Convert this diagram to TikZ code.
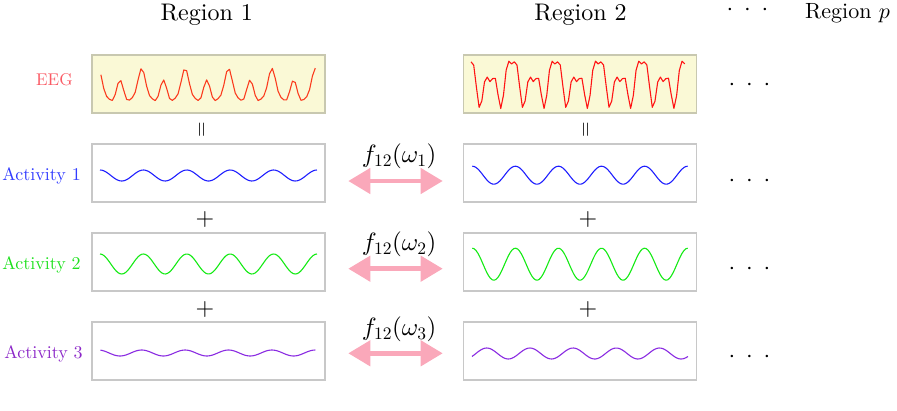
\RequirePackage{fix-cm}
\documentclass[tikz,border=0pt]{standalone}
\usepackage{fontspec}
\setmainfont{lmroman10-regular.otf}[ItalicFont=lmroman10-italic.otf, BoldFont=lmroman10-bold.otf]
\DeclareFontShape{OT1}{cmr}{m}{n}{<->cmr10}{}
\DeclareFontShape{OML}{cmm}{m}{it}{<->cmmi10}{}
\DeclareFontShape{OMS}{cmsy}{m}{n}{<->cmsy10}{}
\usetikzlibrary{arrows.meta}
\definecolor{eegfill}{RGB}{250,249,214}
\definecolor{eegdraw}{RGB}{200,200,176}
\definecolor{boxdraw}{RGB}{200,200,200}
\definecolor{eeglab}{RGB}{250,90,100}
\definecolor{eegA}{RGB}{250,60,30}
\definecolor{eegB}{RGB}{255,20,20}
\definecolor{actA}{RGB}{30,30,255}
\definecolor{actB}{RGB}{20,235,20}
\definecolor{actC}{RGB}{138,43,226}
\definecolor{labA}{RGB}{50,60,255}
\definecolor{labB}{RGB}{30,225,30}
\definecolor{labC}{RGB}{140,40,200}
\definecolor{pinkarr}{RGB}{250,168,186}
\newcommand{\threedots}{${\cdot}\hspace{10.8pt}{\cdot}\hspace{10.8pt}{\cdot}$}
\tikzset{
  big/.style={font=\fontsize{24}{28}\selectfont, inner sep=0pt},
  flab/.style={font=\fontsize{25}{29}\selectfont, inner sep=0pt, anchor=base},
  mid/.style={font=\fontsize{22}{26}\selectfont, inner sep=0pt},
  lab/.style={font=\fontsize{18}{22}\selectfont, inner sep=0pt, anchor=base},
  eegbox/.style={draw=eegdraw, fill=eegfill, line width=1.2pt, minimum width=233pt, minimum height=58pt, inner sep=0pt},
  actbox/.style={draw=boxdraw, fill=white, line width=1.2pt, minimum width=233pt, minimum height=58pt, inner sep=0pt},
  wave/.style={line width=1.1pt, line join=round},
  pinkarrow/.style={draw=pinkarr, line width=4.5pt, {Triangle[length=22pt,width=25pt]}-{Triangle[length=22pt,width=25pt]}},
  eqsign/.style={font=\fontsize{20}{24}\selectfont, inner sep=0pt, rotate=90},
}
\begin{document}
\begin{tikzpicture}[x=1pt,y=-1pt]
\useasboundingbox (0,0) rectangle (897,410);
% headers
\node[big, anchor=base] (h1) at (206.7,20.5) {Region 1};
\node[big, anchor=base] (h2) at (580.5,20.5) {Region 2};
\node[mid, anchor=base west] (hp) at (805,18) {Region $p$};
\node[big, anchor=base] (hd) at (747.5,15.8) {\threedots};
% boxes
\node[eegbox] (e1) at (208.5,84) {};
\node[eegbox] (e2) at (580,84) {};
\node[actbox] (a11) at (208.5,173) {};
\node[actbox] (a12) at (580,173) {};
\node[actbox] (a21) at (208.5,262) {};
\node[actbox] (a22) at (580,262) {};
\node[actbox] (a31) at (208.5,351) {};
\node[actbox] (a32) at (580,351) {};
% row labels
\node[lab, font=\fontsize{17}{21}\selectfont, text=eeglab] (le) at (54.4,85.7) {EEG};
\node[lab, text=labA] (l1) at (41.7,180) {Activity 1};
\node[lab, text=labB] (l2) at (41.5,269) {Activity 2};
\node[lab, text=labC] (l3) at (43.5,358) {Activity 3};
% EEG signals (t in periods)
\draw[wave, eegA] plot[domain=0.06:5, samples=76, variable=\t]
  ({98.3+43.4*\t}, {89.5 - (5.85*cos(360*\t) + 12.5*cos(720*\t) + 3*cos(1440*\t))});
\draw[wave, eegB] plot[domain=0.053:4.99, samples=80, variable=\t]
  ({468.7+43.3*\t}, {82.1 - (8.85*cos(360*\t) + 17.7*cos(720*\t) - 8.5*cos(1440*\t))});
% activities region 1
\draw[wave, actA] plot[domain=0:5, samples=120, variable=\t] ({100+43.4*\t}, {175.5 - 5.5*cos(360*\t)});
\draw[wave, actB] plot[domain=0:5, samples=120, variable=\t] ({100+43.4*\t}, {264 - 10*cos(360*\t)});
\draw[wave, actC] plot[domain=0.05:5, samples=120, variable=\t] ({98.3+43.4*\t}, {353 - 3*cos(360*\t)});
% activities region 2
\draw[wave, actA] plot[domain=0:5, samples=120, variable=\t] ({472.3+43.08*\t}, {175.2 - 9*cos(360*\t)});
\draw[wave, actB] plot[domain=0:5, samples=120, variable=\t] ({472.3+43.08*\t}, {264.2 - 16*cos(360*\t)});
\draw[wave, actC] plot[domain=-0.34:4.66, samples=120, variable=\t] ({486.7+43.2*\t}, {353.5 - 5.5*cos(360*\t)});
% equal and plus signs
\node[eqsign] (q1) at (203,130) {$=$};
\node[eqsign] (q2) at (587,130) {$=$};
\node[big] (p11) at (205,219.3) {$+$};
\node[big] (p12) at (588,219.3) {$+$};
\node[big] (p21) at (205,309) {$+$};
\node[big] (p22) at (588,309) {$+$};
% arrows and coherence labels
\coordinate (al1) at (348.3,181);
\coordinate (ar1) at (442.7,181);
\coordinate (al2) at (348.3,268.7);
\coordinate (ar2) at (442.7,268.7);
\coordinate (al3) at (348.3,353.3);
\coordinate (ar3) at (442.7,353.3);
\draw[pinkarrow] (al1) -- (ar1);
\draw[pinkarrow] (al2) -- (ar2);
\draw[pinkarrow] (al3) -- (ar3);
\node[flab] (f1) at (399.2,162.3) {$f_{12}(\omega_1)$};
\node[flab] (f2) at (399.2,250.8) {$f_{12}(\omega_2)$};
\node[flab] (f3) at (399.2,335.8) {$f_{12}(\omega_3)$};
% dots
\node[big, anchor=base] (d0) at (749.5,90) {\threedots};
\node[big, anchor=base] (d1) at (749.5,186) {\threedots};
\node[big, anchor=base] (d2) at (749.5,274) {\threedots};
\node[big, anchor=base] (d3) at (749.5,362) {\threedots};
\end{tikzpicture}
\end{document}
